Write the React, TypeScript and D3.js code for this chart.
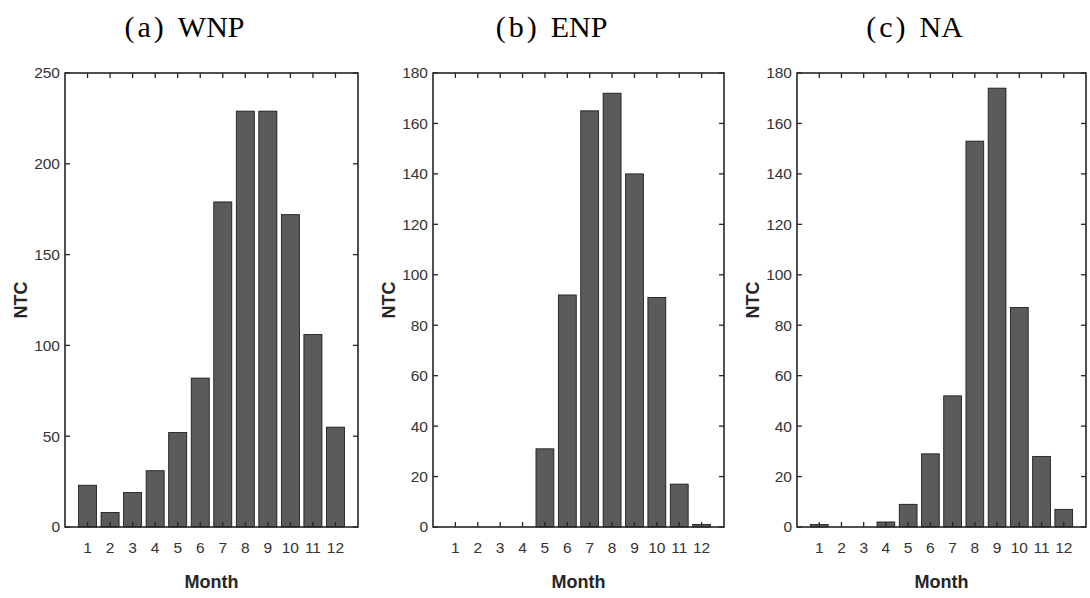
import React from 'react';
import * as d3 from 'd3';

// monthly tropical cyclone counts
const months = [1, 2, 3, 4, 5, 6, 7, 8, 9, 10, 11, 12];
const wnp = [23, 8, 19, 31, 52, 82, 179, 229, 229, 172, 106, 55];
const enp = [0, 0, 0, 0, 31, 92, 165, 172, 140, 91, 17, 1];
const na = [1, 0, 0, 2, 9, 29, 52, 153, 174, 87, 28, 7];

const wnpTicks = [0, 50, 100, 150, 200, 250];
const enpTicks = [0, 20, 40, 60, 80, 100, 120, 140, 160, 180];
const naTicks = [0, 20, 40, 60, 80, 100, 120, 140, 160, 180];

const panels = [
  { label: '(a)', name: 'WNP', values: wnp, ticks: wnpTicks, left: 65, right: 358 },
  { label: '(b)', name: 'ENP', values: enp, ticks: enpTicks, left: 433, right: 724 },
  { label: '(c)', name: 'NA', values: na, ticks: naTicks, left: 797, right: 1086 },
];

const top = 73;
const bottom = 527;
const axisColor = '#262626';
const tickLen = 5;

const Panel = ({ p }) => {
  const x = d3.scaleLinear().domain([0, 13]).range([p.left, p.right]);
  const y = d3.scaleLinear().domain([0, d3.max(p.ticks)]).range([bottom, top]);
  const bw = x(0.8) - x(0);
  const cx = (p.left + p.right) / 2;

  return (
    <g>
      {/* title */}
      <text x={cx - 27} y={37} textAnchor="middle" fontFamily="Liberation Serif"
        fontSize={30} fill="#000">
        <tspan letterSpacing="3">{p.label}</tspan>
        <tspan dx="11">{p.name}</tspan>
      </text>

      {/* bars */}
      {p.values.map((v, i) => v > 0 && (
        <rect key={i} x={x(months[i]) - bw / 2} y={y(v)} width={bw} height={y(0) - y(v)}
          fill="#5b5b5b" stroke="#111" strokeWidth={0.8} />
      ))}

      {/* box */}
      <rect x={p.left} y={top} width={p.right - p.left} height={bottom - top}
        fill="none" stroke={axisColor} strokeWidth={1.6} />

      {/* x ticks, inward on bottom and top */}
      {months.map(m => (
        <g key={m}>
          <line x1={x(m)} x2={x(m)} y1={bottom} y2={bottom - tickLen} stroke={axisColor} strokeWidth={1.3} />
          <line x1={x(m)} x2={x(m)} y1={top} y2={top + tickLen} stroke={axisColor} strokeWidth={1.3} />
          <text x={x(m)} y={bottom + 26} textAnchor="middle" fontFamily="Liberation Sans"
            fontSize={15.5} fill="#333">{m}</text>
        </g>
      ))}

      {/* y ticks, inward on left and right */}
      {p.ticks.map(t => (
        <g key={t}>
          <line x1={p.left} x2={p.left + tickLen} y1={y(t)} y2={y(t)} stroke={axisColor} strokeWidth={1.3} />
          <line x1={p.right} x2={p.right - tickLen} y1={y(t)} y2={y(t)} stroke={axisColor} strokeWidth={1.3} />
          <text x={p.left - 5} y={y(t)} dy="0.35em" textAnchor="end" fontFamily="Liberation Sans"
            fontSize={15.5} fill="#333">{t}</text>
        </g>
      ))}

      {/* axis labels */}
      <text x={cx} y={bottom + 61} textAnchor="middle" fontFamily="Liberation Sans"
        fontWeight="bold" fontSize={18} fill={axisColor}>Month</text>
      <text transform={`translate(${p.left - 38},${(top + bottom) / 2}) rotate(-90)`}
        textAnchor="middle" fontFamily="Liberation Sans" fontWeight="bold" fontSize={18}
        fill={axisColor}>NTC</text>
    </g>
  );
};

export default function App() {
  return (
    <svg width={1090} height={598} style={{ position: 'absolute', left: 0, top: 0, background: '#fff' }}>
      {panels.map(p => <Panel key={p.name} p={p} />)}
    </svg>
  );
}
